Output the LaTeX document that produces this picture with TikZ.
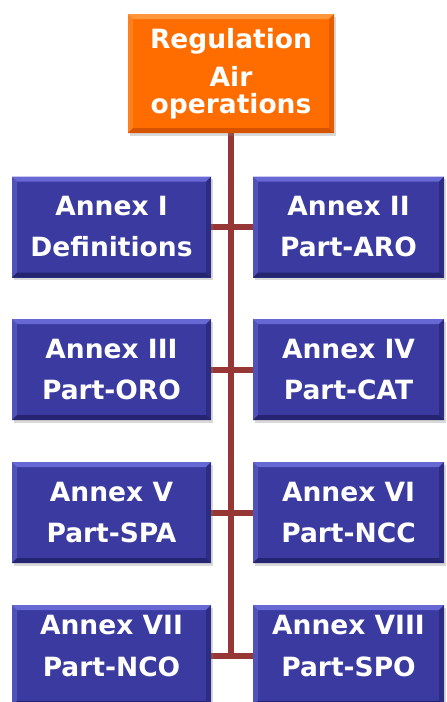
\documentclass[tikz,border=0pt]{standalone}
\usepackage{fontspec}
\setmainfont{DejaVu Sans}
\usetikzlibrary{shadows,backgrounds}

\definecolor{blueface}{RGB}{58,58,160}
\definecolor{bluelight}{RGB}{104,104,212}
\definecolor{bluedark}{RGB}{36,36,112}
\definecolor{orangeface}{RGB}{255,108,0}
\definecolor{orangelight}{RGB}{255,150,60}
\definecolor{orangedark}{RGB}{214,84,0}
\definecolor{stem}{RGB}{150,55,53}

\tikzset{
  % bevelled edge: light top/left strips, dark bottom/right strips
  bevel/.style n args={2}{path picture={
    \fill[#1] (path picture bounding box.north west) -- (path picture bounding box.north east)
      -- ([shift={(-5pt,-5pt)}]path picture bounding box.north east)
      -- ([shift={(5pt,-5pt)}]path picture bounding box.north west) -- cycle;
    \fill[#1,opacity=0.5] (path picture bounding box.north west) -- (path picture bounding box.south west)
      -- ([shift={(5pt,5pt)}]path picture bounding box.south west)
      -- ([shift={(5pt,-5pt)}]path picture bounding box.north west) -- cycle;
    \fill[#2] (path picture bounding box.south west) -- (path picture bounding box.south east)
      -- ([shift={(-5pt,5pt)}]path picture bounding box.south east)
      -- ([shift={(5pt,5pt)}]path picture bounding box.south west) -- cycle;
    \fill[#2,opacity=0.6] (path picture bounding box.north east) -- (path picture bounding box.south east)
      -- ([shift={(-5pt,5pt)}]path picture bounding box.south east)
      -- ([shift={(-5pt,-5pt)}]path picture bounding box.north east) -- cycle;
  }},
  boxshadow/.style={drop shadow={opacity=0.3, shadow xshift=1.5pt, shadow yshift=-2.5pt}},
  annex/.style={rectangle, inner sep=0pt, minimum height=101pt, boxshadow,
    fill=blueface, bevel={bluelight}{bluedark}, text=white, align=center,
    font=\bfseries\fontsize{26.5}{41}\selectfont},
  leftbox/.style={annex, minimum width=199pt},
  rightbox/.style={annex, minimum width=191pt},
  annextext/.style={inner sep=0pt, text=white, align=center,
    font=\bfseries\fontsize{26.5}{42}\selectfont},
  regbox/.style={rectangle, inner sep=0pt, minimum width=206pt, minimum height=119pt, boxshadow,
    fill=orangeface, bevel={orangelight}{orangedark}, text=white, align=center,
    font=\bfseries\fontsize{26.5}{27}\selectfont},
  link/.style={draw=stem, line width=6pt}
}

\begin{document}
\begin{tikzpicture}[x=1pt, y=-1pt]
  \useasboundingbox (0,0) rectangle (447,702);

  % boxes
  \path
    (231,73.5)    node[regbox]   (reg) {Regulation\\[11pt]Air\\operations}
    (111.5,227)   node[leftbox]  (a1) {Annex I\\Definitions}
    (348.5,227)   node[rightbox] (a2) {Annex II\\Part-ARO}
    (111.5,369.5) node[leftbox]  (a3) {Annex III\\Part-ORO}
    (348.5,369.5) node[rightbox] (a4) {Annex IV\\Part-CAT}
    (111.5,512.5) node[leftbox]  (a5) {Annex V\\Part-SPA}
    (348.5,512.5) node[rightbox] (a6) {Annex VI\\Part-NCC}
    (111.5,655.5) node[leftbox]  (a7) {}
    (348.5,655.5) node[rightbox] (a8) {};

  % labels of the last row sit a little higher than the box centre
  \node[annextext] (t7) at (111.5,646.5) {Annex VII\\Part-NCO};
  \node[annextext] (t8) at (348.5,646.5) {Annex VIII\\Part-SPO};

  % trunk and cross links, behind the boxes
  \begin{scope}[on background layer]
    \coordinate (foot) at (reg.south |- a7.east);
    \draw[link] (reg.south) -- (foot);
    \draw[link] (a1.east) -- (a2.west);
    \draw[link] (a3.east) -- (a4.west);
    \draw[link] (a5.east) -- (a6.west);
    \draw[link] (a7.east) -- (a8.west);
  \end{scope}
\end{tikzpicture}
\end{document}
